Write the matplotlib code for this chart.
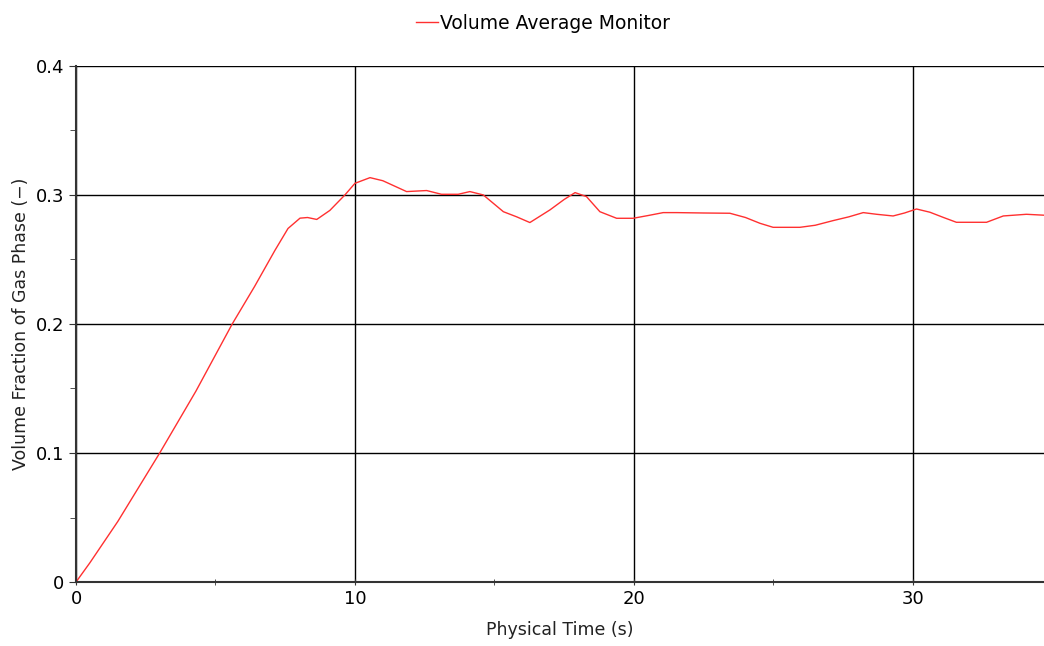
import matplotlib
matplotlib.use("Agg")
import matplotlib.pyplot as plt
from matplotlib.ticker import MultipleLocator

# volume fraction of gas phase vs physical time
time_s = [0.0, 0.5, 1.5, 3.0, 4.3, 5.6, 6.4, 7.13, 7.6, 8.03, 8.3, 8.63, 9.1, 9.64,
          10.0, 10.54, 11.0, 11.85, 12.57, 13.1, 13.7, 14.12, 14.6, 15.32, 15.8,
          16.27, 16.99, 17.5, 17.89, 18.3, 18.78, 19.38, 19.97, 20.5, 21.05, 21.53,
          22.5, 23.44, 24.0, 24.52, 24.99, 25.95, 26.5, 27.14, 27.7, 28.22, 28.7,
          29.29, 29.7, 30.13, 30.61, 31.1, 31.56, 32.64, 33.24, 34.07, 34.69]
gas_fraction = [0.0, 0.015, 0.047, 0.1, 0.148, 0.2, 0.229, 0.257, 0.274, 0.282, 0.2825,
                0.281, 0.288, 0.300, 0.309, 0.3134, 0.311, 0.3026, 0.3034, 0.3005,
                0.3005, 0.3026, 0.300, 0.287, 0.283, 0.2786, 0.2884, 0.2965, 0.3018,
                0.2987, 0.2870, 0.2819, 0.2819, 0.2840, 0.2863, 0.2863, 0.2860, 0.2858,
                0.2825, 0.2780, 0.2749, 0.2749, 0.2765, 0.2801, 0.2830, 0.2863, 0.2850,
                0.2837, 0.2860, 0.2891, 0.2866, 0.2825, 0.2788, 0.2788, 0.2837, 0.2850,
                0.2843]

fig = plt.figure(figsize=(10.44, 6.46), dpi=100)
ax = fig.add_axes([0.0728, 0.099, 0.9272, 0.799])

ax.plot(time_s, gas_fraction, color="#ff3030", linewidth=1.0, label="Volume Average Monitor")

ax.set_xlim(0, 34.7)
ax.set_ylim(0, 0.4)
ax.xaxis.set_major_locator(MultipleLocator(10))
ax.xaxis.set_minor_locator(MultipleLocator(5))
ax.yaxis.set_major_locator(MultipleLocator(0.1))
ax.yaxis.set_minor_locator(MultipleLocator(0.05))
ax.set_yticks([0, 0.1, 0.2, 0.3, 0.4])
ax.set_yticklabels(["0", "0.1", "0.2", "0.3", "0.4"])

ax.grid(True, which="major", color="black", linewidth=1.0)
for side in ["top", "right"]:
    ax.spines[side].set_visible(False)
for side in ["left", "bottom"]:
    ax.spines[side].set_linewidth(1.5)
    ax.spines[side].set_color("#333333")

ax.tick_params(axis="both", which="major", labelsize=13, length=5, color="#333333")
ax.tick_params(axis="x", which="both", direction="inout")
ax.tick_params(axis="y", which="both", direction="out")
ax.tick_params(which="minor", length=4, color="#333333")

ax.set_xlabel("Physical Time (s)", fontsize=12.5, color="#222222", labelpad=9)
ax.set_ylabel("Volume Fraction of Gas Phase (\u2212)", fontsize=12.5, color="#222222")

fig.legend(loc="upper center", bbox_to_anchor=(0.52, 1.005), frameon=False, fontsize=13.5,
           handlelength=1.2, handletextpad=0.1)

fig.savefig("out.png", dpi=100)
